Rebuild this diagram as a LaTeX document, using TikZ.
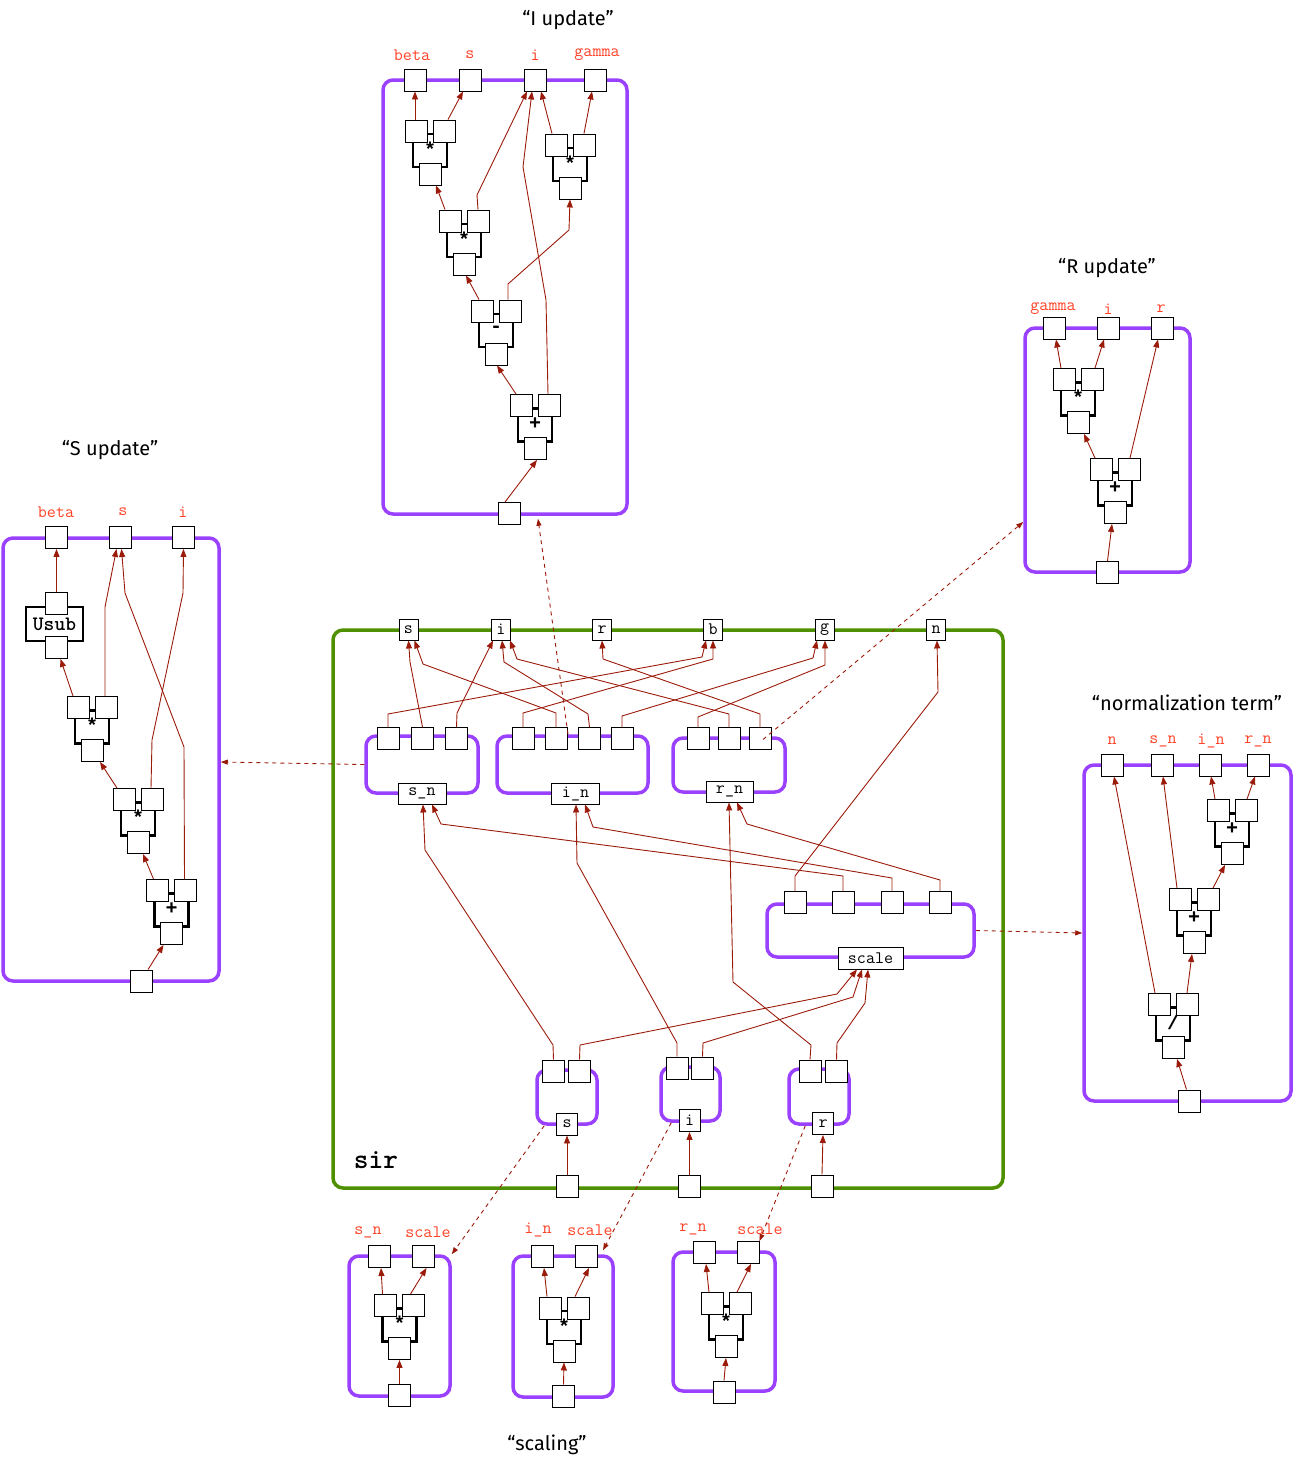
\documentclass[tikz,border=0pt]{standalone}
\usepackage{fontspec}
\newfontfamily\lmono{Liberation Mono}
\newfontfamily\lmlight{Latin Modern Mono Light}
\newfontfamily\titlefont{Fira Sans}
\usetikzlibrary{arrows.meta}
\definecolor{purp}{HTML}{9A40FF}
\definecolor{grn}{HTML}{4E9000}
\definecolor{wirec}{HTML}{9B1B0B}
\definecolor{lblc}{HTML}{FF4126}
\tikzset{
 port/.style={draw=black, fill=white, line width=0.9pt, minimum width=22pt, minimum height=22pt, inner sep=0pt, font=\ttfamily\fontsize{17.5}{17.5}\selectfont},
 lport/.style={port, minimum width=19pt, minimum height=21pt},
 pbox/.style={draw=purp, line width=3.5pt, rounded corners=10pt, inner sep=0pt},
 gbox/.style={draw=grn, line width=3.5pt, rounded corners=10pt, inner sep=0pt},
 opline/.style={line width=2.5pt, draw=black},
 oplbl/.style={font=\lmono\bfseries\fontsize{20}{20}\selectfont, inner sep=0pt},
 wire/.style={draw=wirec, line width=0.9pt, -{Triangle[length=8pt,width=6pt]}},
 dwire/.style={draw=wirec, line width=0.9pt, dash pattern=on 4pt off 4pt, -{Triangle[length=7pt,width=5pt]}},
 lbl/.style={text=lblc, font=\ttfamily\fontsize{17.5}{17.5}\selectfont, inner sep=0pt},
 ttl/.style={font=\titlefont\fontsize{20}{20}\selectfont, inner sep=0pt},
 usubbox/.style={draw=black, fill=white, line width=2.5pt, minimum width=57pt, minimum height=34pt, inner sep=0pt, font=\lmlight\bfseries\fontsize{20.5}{20.5}\selectfont},
}
\newcommand\mkbox[6]{\node[#1, minimum width={#5-#3}, minimum height={#6-#4}] (#2) at ({(#3+#5)/2},{(#4+#6)/2}) {};}
\newcommand\opbox[4]{%
  \draw[opline] (#2-17,#3-32) -- (#2-17,#3-7) -- (#2,#3-7);
  \draw[opline] (#2+17,#3-32) -- (#2+17,#3-7) -- (#2,#3-7);
  \draw[opline] (#2-4,#3-40) -- (#2+4,#3-40);
  \node[oplbl] at (#2,#3-25) {#4};
  \node[port] (#1a) at (#2-14,#3-43) {};
  \node[port] (#1b) at (#2+14,#3-43) {};
  \node[port] (#1o) at (#2,#3) {};
}
\newcommand\st{\raisebox{-3pt}{*}}
\begin{document}
\begin{tikzpicture}[x=1pt,y=-1pt]
\useasboundingbox (0,0) rectangle (1298,1467);

% titles
\node[ttl] (tI) at (568,20) {“I update”};
\node[ttl] (tS) at (110,450) {“S update”};
\node[ttl] (tR) at (1107,268) {“R update”};
\node[ttl] (tN) at (1187,703) {“normalization term”};
\node[ttl] (tSc) at (547,1445) {“scaling”};

% ================= I update
\mkbox{pbox}{IUbox}{383}{80}{627}{514}
\node[lbl] (iulb) at (412,55) {beta};
\node[lbl] (iuls) at (470,55) {s};
\node[lbl] (iuli) at (535,55) {i};
\node[lbl] (iulg) at (597,55) {gamma};
\opbox{iuA}{430}{174}{\st}
\opbox{iuB}{570}{188}{\st}
\opbox{iuC}{464}{264}{\st}
\opbox{iuD}{496}{354}{-}
\opbox{iuE}{535}{448.5}{+}
\node[port] (iu-beta) at (415,80) {};
\node[port] (iu-s) at (470,80) {};
\node[port] (iu-i) at (535,80) {};
\node[port] (iu-g) at (595,80) {};
\node[port] (iu-in) at (509,513.5) {};
\draw[wire] ([xshift=-4pt]iu-in.north) -- ([xshift=2pt]iuEo.south);
\draw[wire] ([xshift=-5pt]iuEa.north) -- ([xshift=1pt]iuDo.south);
\draw[wire] ([xshift=-1pt]iuEb.north) -- (546,300) -- (523,167) -- ([xshift=-3pt]iu-i.south);
\draw[wire] ([xshift=-3pt]iuDa.north) -- ([xshift=2pt]iuCo.south);
\draw[wire] ([xshift=-2pt]iuDb.north) -- (508,284) -- (569,230) -- (iuBo.south);
\draw[wire] ([xshift=-5pt]iuCa.north) -- ([xshift=6pt]iuAo.south);
\draw[wire] (iuCb.north) -- (477,195) -- ([xshift=-8pt]iu-i.south);
\draw[wire] ([xshift=-1pt]iuAa.north) -- (iu-beta.south);
\draw[wire] ([xshift=4pt]iuAb.north) -- ([xshift=-7pt]iu-s.south);
\draw[wire] ([xshift=-4pt]iuBa.north) -- ([xshift=6pt]iu-i.south);
\draw[wire] (iuBb.north) -- ([xshift=-3pt]iu-g.south);

% ================= S update
\mkbox{pbox}{SUbox}{3}{538}{219}{981}
\node[lbl] (sulb) at (56,512) {beta};
\node[lbl] (suls) at (123,512) {s};
\node[lbl] (suli) at (183,512) {i};
\node[usubbox] (usub) at (54.5,624) {Usub};
\node[port] (su-ua) at (56.5,603.5) {};
\node[port] (su-uo) at (56.5,647.5) {};
\opbox{suA}{92}{750.5}{\st}
\opbox{suB}{138}{842.5}{\st}
\opbox{suC}{171.5}{933.5}{+}
\node[port] (su-beta) at (56.5,537.5) {};
\node[port] (su-s) at (120.5,537.5) {};
\node[port] (su-i) at (183.5,537.5) {};
\node[port] (su-in) at (141,981) {};
\draw[wire] ([xshift=7pt]su-in.north) -- ([xshift=-8pt]suCo.south);
\draw[wire] ([xshift=-4pt]suCa.north) -- ([xshift=5pt]suBo.south);
\draw[wire] ([xshift=-1pt]suCb.north) -- (184,747) -- (125,593) -- ([xshift=1pt]su-s.south);
\draw[wire] ([xshift=-7pt]suBa.north) -- ([xshift=8pt]suAo.south);
\draw[wire] ([xshift=-1pt]suBb.north) -- (152,740) -- (183,593) -- (su-i.south);
\draw[wire] ([xshift=-5pt]suAa.north) -- ([xshift=4pt]su-uo.south);
\draw[wire] ([xshift=-1pt]suAb.north) -- (105,607) -- ([xshift=-4pt]su-s.south);
\draw[wire] (su-ua.north) -- (su-beta.south);

% ================= R update
\mkbox{pbox}{RUbox}{1025}{328}{1190}{572}
\node[lbl] (rulg) at (1053,309) {gamma};
\node[lbl] (ruli) at (1108,309) {i};
\node[lbl] (rulr) at (1161,309) {r};
\opbox{ruA}{1078}{422.5}{\st}
\opbox{ruB}{1115}{512.5}{+}
\node[port] (ru-g) at (1054,328) {};
\node[port] (ru-i) at (1108,328) {};
\node[port] (ru-r) at (1162,328) {};
\node[port] (ru-in) at (1107.5,572.5) {};
\draw[wire] (ru-in.north) -- ([xshift=-3pt]ruBo.south);
\draw[wire] ([xshift=-6pt]ruBa.north) -- ([xshift=6pt]ruAo.south);
\draw[wire] ([xshift=1pt]ruBb.north) -- ([xshift=-4pt]ru-r.south);
\draw[wire] ([xshift=-3pt]ruAa.north) -- ([xshift=2pt]ru-g.south);
\draw[wire] ([xshift=3pt]ruAb.north) -- ([xshift=-4pt]ru-i.south);

% ================= normalization term
\mkbox{pbox}{NTbox}{1084}{765}{1291}{1101}
\node[lbl] (ntln) at (1112,741) {n};
\node[lbl] (ntls) at (1163,741) {s\_n};
\node[lbl] (ntli) at (1211,741) {i\_n};
\node[lbl] (ntlr) at (1258,741) {r\_n};
\opbox{ntA}{1232}{853.5}{+}
\opbox{ntB}{1194}{942.5}{+}
\opbox{ntC}{1173}{1047.5}{/}
\node[port] (nt-n) at (1112,765) {};
\node[port] (nt-s) at (1162,765) {};
\node[port] (nt-i) at (1210,765) {};
\node[port] (nt-r) at (1258,765) {};
\node[port] (nt-in) at (1189.5,1101) {};
\draw[wire] ([xshift=-3pt]nt-in.north) -- ([xshift=4pt]ntCo.south);
\draw[wire] ([xshift=-4pt]ntCa.north) -- ([xshift=2pt]nt-n.south);
\draw[wire] (ntCb.north) -- ([xshift=-2pt]ntBo.south);
\draw[wire] ([xshift=-3pt]ntBa.north) -- ([xshift=1pt]nt-s.south);
\draw[wire] ([xshift=5pt]ntBb.north) -- ([xshift=-7pt]ntAo.south);
\draw[wire] ([xshift=-3pt]ntAa.north) -- ([xshift=1pt]nt-i.south);
\draw[wire] ([xshift=1pt]ntAb.north) -- ([xshift=-3pt]nt-r.south);

% ================= scaling
\mkbox{pbox}{SC1box}{349}{1256}{450}{1396}
\node[lbl] (sc1la) at (368,1232) {s\_n};
\node[lbl] (sc1lb) at (428,1232) {scale};
\opbox{scA}{399.5}{1348.5}{\st}
\node[port] (sc1a) at (379,1256.5) {};
\node[port] (sc1b) at (423.5,1256.5) {};
\node[port] (sc1in) at (399.5,1395.5) {};
\draw[wire] (sc1in.north) -- (scAo.south);
\draw[wire] ([xshift=-3pt]scAa.north) -- ([xshift=2pt]sc1a.south);
\draw[wire] ([xshift=-3pt]scAb.north) -- ([xshift=3pt]sc1b.south);

\mkbox{pbox}{SC2box}{513}{1256}{613}{1397}
\node[lbl] (sc2la) at (538,1230) {i\_n};
\node[lbl] (sc2lb) at (590,1230) {scale};
\opbox{scB}{564}{1351}{\st}
\node[port] (sc2a) at (542,1256.5) {};
\node[port] (sc2b) at (586,1256.5) {};
\node[port] (sc2in) at (563.5,1396) {};
\draw[wire] (sc2in.north) -- (scBo.south);
\draw[wire] ([xshift=-3pt]scBa.north) -- ([xshift=2pt]sc2a.south);
\draw[wire] ([xshift=-3pt]scBb.north) -- ([xshift=3pt]sc2b.south);

\mkbox{pbox}{SC3box}{673}{1252}{775}{1391}
\node[lbl] (sc3la) at (693,1229) {r\_n};
\node[lbl] (sc3lb) at (760,1229) {scale};
\opbox{scC}{726}{1346.5}{\st}
\node[port] (sc3a) at (704,1252.5) {};
\node[port] (sc3b) at (748,1252.5) {};
\node[port] (sc3in) at (724,1392) {};
\draw[wire] (sc3in.north) -- (scCo.south);
\draw[wire] ([xshift=-3pt]scCa.north) -- ([xshift=2pt]sc3a.south);
\draw[wire] ([xshift=-3pt]scCb.north) -- ([xshift=3pt]sc3b.south);

% ================= SIR
\mkbox{gbox}{SIRbox}{333}{630}{1003}{1188}
\node[font=\lmlight\bfseries\fontsize{28}{28}\selectfont, inner sep=0pt] (sirlbl) at (376,1160) {sir};
\mkbox{pbox}{Snbox}{366}{736}{478}{793}
\mkbox{pbox}{Inbox}{497}{736}{648}{793}
\mkbox{pbox}{Rnbox}{673}{738}{785}{792}
\mkbox{pbox}{Scbox}{767}{904}{974}{957}
\mkbox{pbox}{Bsbox}{537}{1070}{597}{1124}
\mkbox{pbox}{Bibox}{661}{1067}{720}{1121}
\mkbox{pbox}{Brbox}{789}{1069}{849}{1124}

\node[lport] (sir-s) at (408.5,629.5) {s};
\node[lport] (sir-i) at (501,629.5) {i};
\node[lport] (sir-r) at (602,629.5) {r};
\node[lport] (sir-b) at (713,629.5) {b};
\node[lport] (sir-g) at (824.5,629.5) {g};
\node[lport] (sir-n) at (936,629.5) {n};
\node[port] (sir-ins) at (567,1186) {};
\node[port] (sir-ini) at (689.5,1186) {};
\node[port] (sir-inr) at (822,1186) {};

\node[port] (Sn1) at (388,738.5) {};
\node[port] (Sn2) at (422.5,738.5) {};
\node[port] (Sn3) at (456.5,738.5) {};
\node[port, minimum width=48pt, minimum height=21pt] (Sno) at (422,793.5) {s\_n};
\node[port] (In1) at (523,738.5) {};
\node[port] (In2) at (556,738.5) {};
\node[port] (In3) at (589.5,738.5) {};
\node[port] (In4) at (622,738.5) {};
\node[port, minimum width=48pt, minimum height=21pt] (Ino) at (575.5,793.5) {i\_n};
\node[port] (Rn1) at (698,738.5) {};
\node[port] (Rn2) at (729,738.5) {};
\node[port] (Rn3) at (760,738.5) {};
\node[port, minimum width=47pt, minimum height=21pt] (Rno) at (729.5,791.5) {r\_n};
\node[port] (Sc1) at (795,902.5) {};
\node[port] (Sc2) at (843,902.5) {};
\node[port] (Sc3) at (892,902.5) {};
\node[port] (Sc4) at (940,902.5) {};
\node[port, minimum width=65pt, minimum height=22pt] (Sco) at (870.5,958) {scale};
\node[port] (Bs1) at (553.5,1071) {};
\node[port] (Bs2) at (579.5,1071) {};
\node[port, minimum width=21pt] (Bso) at (567,1124) {s};
\node[port] (Bi1) at (677,1068) {};
\node[port] (Bi2) at (702.5,1068) {};
\node[port, minimum width=21pt] (Bio) at (689.5,1120.5) {i};
\node[port] (Br1) at (810,1071) {};
\node[port] (Br2) at (836.5,1071) {};
\node[port, minimum width=21pt] (Bro) at (823,1123.5) {r};

% inputs into scaling subboxes
\draw[wire] (sir-ins.north) -- (Bso.south);
\draw[wire] (sir-ini.north) -- (Bio.south);
\draw[wire] (sir-inr.north) -- (Bro.south);
% scaling subboxes up
\draw[wire] (Bs1.north) -- (553,1045) -- (425,850) -- ([xshift=1pt]Sno.south);
\draw[wire] (Bs2.north) -- (580,1045) -- (837,994) -- ([xshift=-13.5pt]Sco.south);
\draw[wire] (Bi1.north) -- (677,1043) -- (577,863) -- ([xshift=0.5pt]Ino.south);
\draw[wire] (Bi2.north) -- (703,1043) -- (853,997) -- ([xshift=-8.5pt]Sco.south);
\draw[wire] (Br1.north) -- (811,1045) -- (733,982) -- ([xshift=-0.5pt]Rno.south);
\draw[wire] (Br2.north) -- (837,1043) -- (865,1003) -- ([xshift=-2.5pt]Sco.south);
% normalization up
\draw[wire] (Sc1.north) -- (795,876) -- (938,692) -- ([xshift=1pt]sir-n.south);
\draw[wire] (Sc2.north) -- (843,876) -- (441,824) -- ([xshift=10pt]Sno.south);
\draw[wire] (Sc3.north) -- (892,878) -- (593,827) -- ([xshift=9.5pt]Ino.south);
\draw[wire] (Sc4.north) -- (940,880) -- (747,824) -- ([xshift=7.5pt]Rno.south);
% update boxes up
\draw[wire] (Sn1.north) -- (388,714) -- (702,657) -- ([xshift=-7pt]sir-b.south);
\draw[wire] (In1.north) -- (523,713) -- (713,659) -- (sir-b.south);
\draw[wire] (Sn2.north) -- (420,714) -- (410,662) -- (sir-s.south);
\draw[wire] (In2.north) -- (556,713) -- (423,664) -- ([xshift=6pt]sir-s.south);
\draw[wire] (Sn3.north) -- (457,713) -- ([xshift=-8pt]sir-i.south);
\draw[wire] (In3.north) -- (588,714) -- (504,662) -- ([xshift=1pt]sir-i.south);
\draw[wire] (Rn2.north) -- (729,714) -- (517,659) -- ([xshift=9pt]sir-i.south);
\draw[wire] (Rn3.north) -- (760,714) -- (603,659) -- (sir-r.south);
\draw[wire] (In4.north) -- (622,716) -- (813,658) -- ([xshift=-7.5pt]sir-g.south);
\draw[wire] (Rn1.north) -- (698,717) -- (825,665) -- ([xshift=0.5pt]sir-g.south);

% dashed references
\draw[dwire] (Snbox.west) -- ([yshift=-2.5pt]SUbox.east);
\draw[dwire] ([xshift=-4.5pt]Inbox.north) -- ([xshift=33pt,yshift=-3pt]IUbox.south);
\draw[dwire] ([xshift=3pt,yshift=-1pt]Rn3.center) -- ([yshift=-72pt]RUbox.west);
\draw[dwire] (Scbox.east) -- (NTbox.west);
\draw[dwire] ([xshift=9pt]Bsbox.south west) -- (SC1box.north east);
\draw[dwire] ([xshift=12pt]Bibox.south west) -- ([xshift=-11.75pt,yshift=4pt]SC2box.north east);
\draw[dwire] ([xshift=18pt]Brbox.south west) -- (sc3b.north east);
\end{tikzpicture}
\end{document}
